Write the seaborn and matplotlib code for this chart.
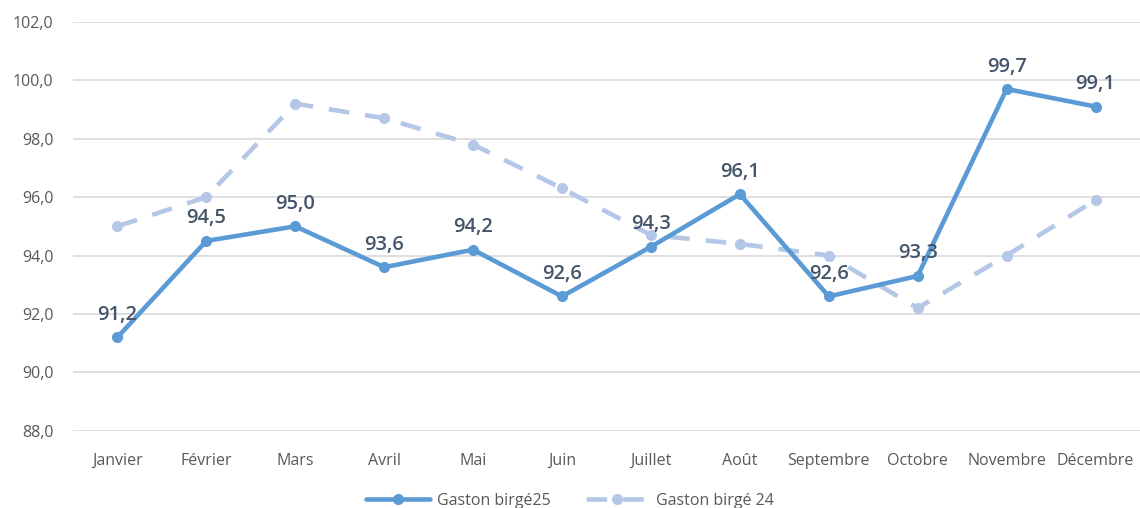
import matplotlib
matplotlib.use("Agg")
import matplotlib.pyplot as plt
import pandas as pd
import seaborn as sns

months = ["Janvier", "Février", "Mars", "Avril", "Mai", "Juin", "Juillet",
          "Août", "Septembre", "Octobre", "Novembre", "Décembre"]
gaston_25 = [91.2, 94.5, 95.0, 93.6, 94.2, 92.6, 94.3, 96.1, 92.6, 93.3, 99.7, 99.1]
gaston_24 = [95.0, 96.0, 99.2, 98.7, 97.8, 96.3, 94.7, 94.4, 94.0, 92.2, 94.0, 95.9]
series_names = ["Gaston birgé25", "Gaston birgé 24"]
y_ticks = [88, 90, 92, 94, 96, 98, 100, 102]

df = pd.DataFrame({
    "month": months * 2,
    "value": gaston_25 + gaston_24,
    "series": [series_names[0]] * 12 + [series_names[1]] * 12,
})
df["pos"] = df["month"].map({m: i for i, m in enumerate(months)})

sns.set_theme(style="white")
plt.rcParams["font.family"] = ["Open Sans", "DejaVu Sans"]

fig = plt.figure(figsize=(11.4, 5.08), dpi=100)
ax = fig.add_axes([0.064, 0.152, 0.936, 0.805])

palette = {series_names[0]: "#5B9BD5", series_names[1]: "#B4C7E7"}
d24 = df[df["series"] == series_names[1]]
d25 = df[df["series"] == series_names[0]]
sns.lineplot(data=d24, x="pos", y="value", ax=ax, color=palette[series_names[1]],
             linewidth=3.3, marker="o", markersize=8, markeredgewidth=0,
             dashes=False, label=series_names[1], zorder=2)
ax.lines[-1].set_dashes([4.5, 3.5])
sns.lineplot(data=d25, x="pos", y="value", ax=ax, color=palette[series_names[0]],
             linewidth=3.3, marker="o", markersize=8, markeredgewidth=0,
             label=series_names[0], zorder=3)

for i, v in enumerate(gaston_25):
    ax.annotate(f"{v:.1f}".replace(".", ","), (i, v), xytext=(0, 9),
                textcoords="offset points", ha="center", va="bottom",
                fontsize=14.5, fontweight="semibold", color="#44546A")

ax.set_xlim(-0.5, 11.5)
ax.set_ylim(88, 102)
ax.set_xticks(range(12))
ax.set_xticklabels(months)
ax.set_yticks(y_ticks)
ax.set_yticklabels([f"{t:.1f}".replace(".", ",") for t in y_ticks])
ax.tick_params(axis="both", colors="#595959", labelsize=11.5, length=0)
ax.tick_params(axis="x", pad=16)
ax.tick_params(axis="y", pad=14)
ax.yaxis.grid(True, color="#D9D9D9", linewidth=1.2)
ax.set_axisbelow(True)
for s in ax.spines.values():
    s.set_visible(False)
ax.set_xlabel("")
ax.set_ylabel("")

handles, labels = ax.get_legend_handles_labels()
order = [labels.index(series_names[0]), labels.index(series_names[1])]
ax.legend([handles[k] for k in order], [labels[k] for k in order],
          loc="lower center", bbox_to_anchor=(0.5, -0.03), bbox_transform=fig.transFigure,
          ncol=2, frameon=False, fontsize=11.5, labelcolor="#595959",
          handlelength=4, handletextpad=0.4, columnspacing=2.2)

fig.savefig("out.png", dpi=100)
